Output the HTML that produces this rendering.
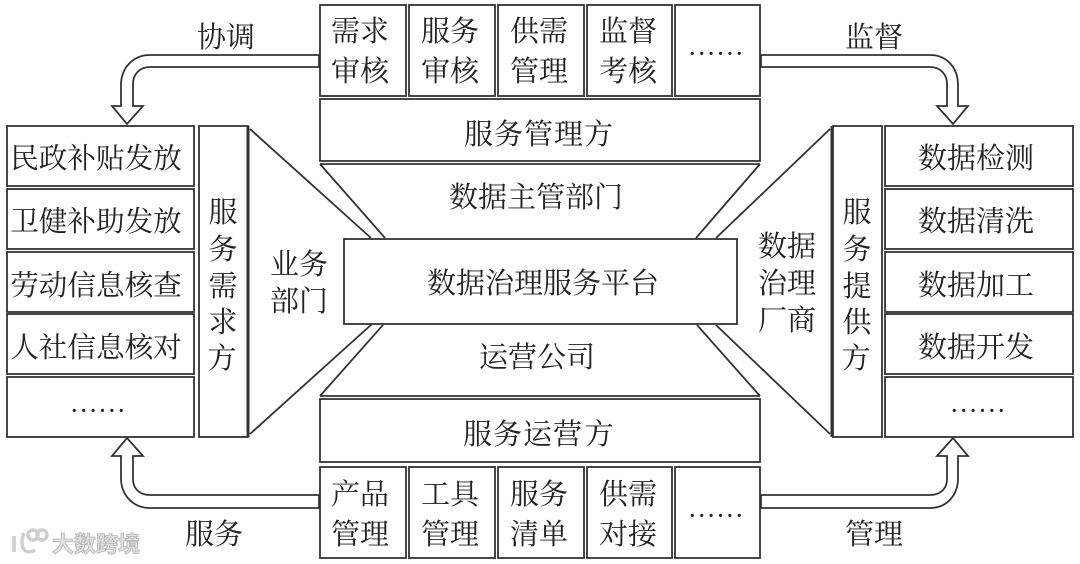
<!DOCTYPE html>
<html><head><meta charset="utf-8">
<style>
html,body{margin:0;padding:0;background:#fff}
svg{display:block;filter:blur(.35px)}
text{font-family:"Liberation Serif","Noto Serif CJK SC",serif;font-size:29px;fill:#222;text-anchor:middle}
.s{font-size:28.6px}
.b{fill:#fff;stroke:#333;stroke-width:1.8}
.l{fill:none;stroke:#333;stroke-width:1.8}
.d{font-family:"Liberation Serif",serif;font-size:20px;letter-spacing:4.4px;font-weight:bold}
.w{font-family:"Liberation Sans","Noto Sans CJK SC",sans-serif;font-size:22px;fill:#e2e2e2;stroke:#b4b4b4;stroke-width:.8;text-anchor:start;font-weight:bold}
</style></head><body>
<svg width="1080" height="564" viewBox="0 0 1080 564" xmlns="http://www.w3.org/2000/svg">
<g>
<rect class="b" x="320" y="5" width="86" height="91"/>
<rect class="b" x="409" y="5" width="86" height="91"/>
<rect class="b" x="498" y="5" width="86" height="91"/>
<rect class="b" x="587" y="5" width="85" height="91"/>
<rect class="b" x="675" y="5" width="85" height="91"/>
<rect class="b" x="320" y="99" width="440" height="62"/>
<rect class="b" x="320" y="399" width="440" height="63"/>
<rect class="b" x="320" y="467" width="86" height="91"/>
<rect class="b" x="409" y="467" width="86" height="91"/>
<rect class="b" x="498" y="467" width="86" height="91"/>
<rect class="b" x="587" y="467" width="85" height="91"/>
<rect class="b" x="675" y="467" width="85" height="91"/>
<rect class="b" x="7" y="126" width="187" height="60"/>
<rect class="b" x="7" y="189" width="187" height="60"/>
<rect class="b" x="7" y="252" width="187" height="60"/>
<rect class="b" x="7" y="314" width="187" height="60"/>
<rect class="b" x="7" y="377" width="187" height="60"/>
<rect class="b" x="199" y="126" width="49" height="311"/>
<path d="M248 126V437" stroke="#333" stroke-width="3"/>
<rect class="b" x="833" y="126" width="49" height="311"/>
<path d="M832 126V437" stroke="#333" stroke-width="3"/>
<rect class="b" x="885" y="126" width="188" height="60"/>
<rect class="b" x="885" y="189" width="188" height="60"/>
<rect class="b" x="885" y="252" width="188" height="60"/>
<rect class="b" x="885" y="314" width="188" height="60"/>
<rect class="b" x="885" y="377" width="188" height="60"/>
<rect class="b" x="344" y="239" width="393" height="85"/>
<path class="l" d="M250 129L371 238M320 164H760M320 164L385 238M760 164L696 238M830 129L716 238"/>
<path class="l" d="M250 434L372 324M320 396H760M320 396L383 325M760 396L697 325M830 434L716 325"/>
<path class="b" d="M319 55H150C133 55 121 68 121 85V106H112L127 124L143 106H133V84C133 74 140 67 150 67H319Z"/>
<path class="b" d="M761 55H930C947 55 958 68 958 85V106H968L953 124L937 106H947V84C947 74 940 67 930 67H761Z"/>
<path class="b" d="M319 508H150C133 508 121 495 121 478V456H112L127 438L143 456H133V479C133 489 140 495 150 495H319Z"/>
<path class="b" d="M761 508H930C947 508 958 495 958 478V456H968L953 438L937 456H947V479C947 489 940 495 930 495H761Z"/>
<text x="360" y="41">需求</text><text x="360" y="81">审核</text>
<text x="450" y="41">服务</text><text x="450" y="81">审核</text>
<text x="539" y="41">供需</text><text x="539" y="81">管理</text>
<text x="628" y="41">监督</text><text x="628" y="81">考核</text>
<text class="d" x="718" y="55">......</text>
<text x="539" y="144" style="letter-spacing:1px">服务管理方</text>
<text x="536" y="207">数据主管部门</text>
<text x="543" y="293">数据治理服务平台</text>
<text x="537" y="367">运营公司</text>
<text x="523" y="444" style="letter-spacing:1px">服务运营</text><text x="599" y="444">方</text>
<text x="360" y="504">产品</text><text x="360" y="544">管理</text>
<text x="450" y="504">工具</text><text x="450" y="544">管理</text>
<text x="539" y="504">服务</text><text x="539" y="544">清单</text>
<text x="628" y="504">供需</text><text x="628" y="544">对接</text>
<text class="d" x="718" y="517">......</text>
<text x="226" y="47">协调</text>
<text x="874" y="47">监督</text>
<text x="214" y="544">服务</text>
<text x="874" y="544">管理</text>
<text class="s" x="96" y="168">民政补贴发放</text>
<text class="s" x="96" y="231">卫健补助发放</text>
<text class="s" x="96" y="295">劳动信息核查</text>
<text class="s" x="96" y="357">人社信息核对</text>
<text class="d" x="100" y="412">......</text>
<text x="223" y="222">服</text><text x="223" y="259">务</text><text x="223" y="296">需</text><text x="223" y="332">求</text><text x="222" y="368">方</text>
<text x="299" y="274">业务</text><text x="299" y="311">部门</text>
<text x="787" y="256">数据</text><text x="787" y="293">治理</text><text x="787" y="330">厂商</text>
<text x="857" y="222">服</text><text x="857" y="259">务</text><text x="857" y="296">提</text><text x="857" y="332">供</text><text x="856" y="368">方</text>
<text x="976" y="168">数据检测</text>
<text x="976" y="231">数据清洗</text>
<text x="976" y="295">数据加工</text>
<text x="976" y="357">数据开发</text>
<text class="d" x="980" y="412">......</text>
<g fill="none" stroke="#cfcfcf" stroke-width="3.5"><path d="M14 536V552M24 533C19 546 24 556 35 550"/><circle cx="33" cy="535" r="5"/><circle cx="42" cy="535" r="5"/></g>
<text class="w" x="52" y="552">大数跨境</text>
</g>
</svg>
</body></html>
